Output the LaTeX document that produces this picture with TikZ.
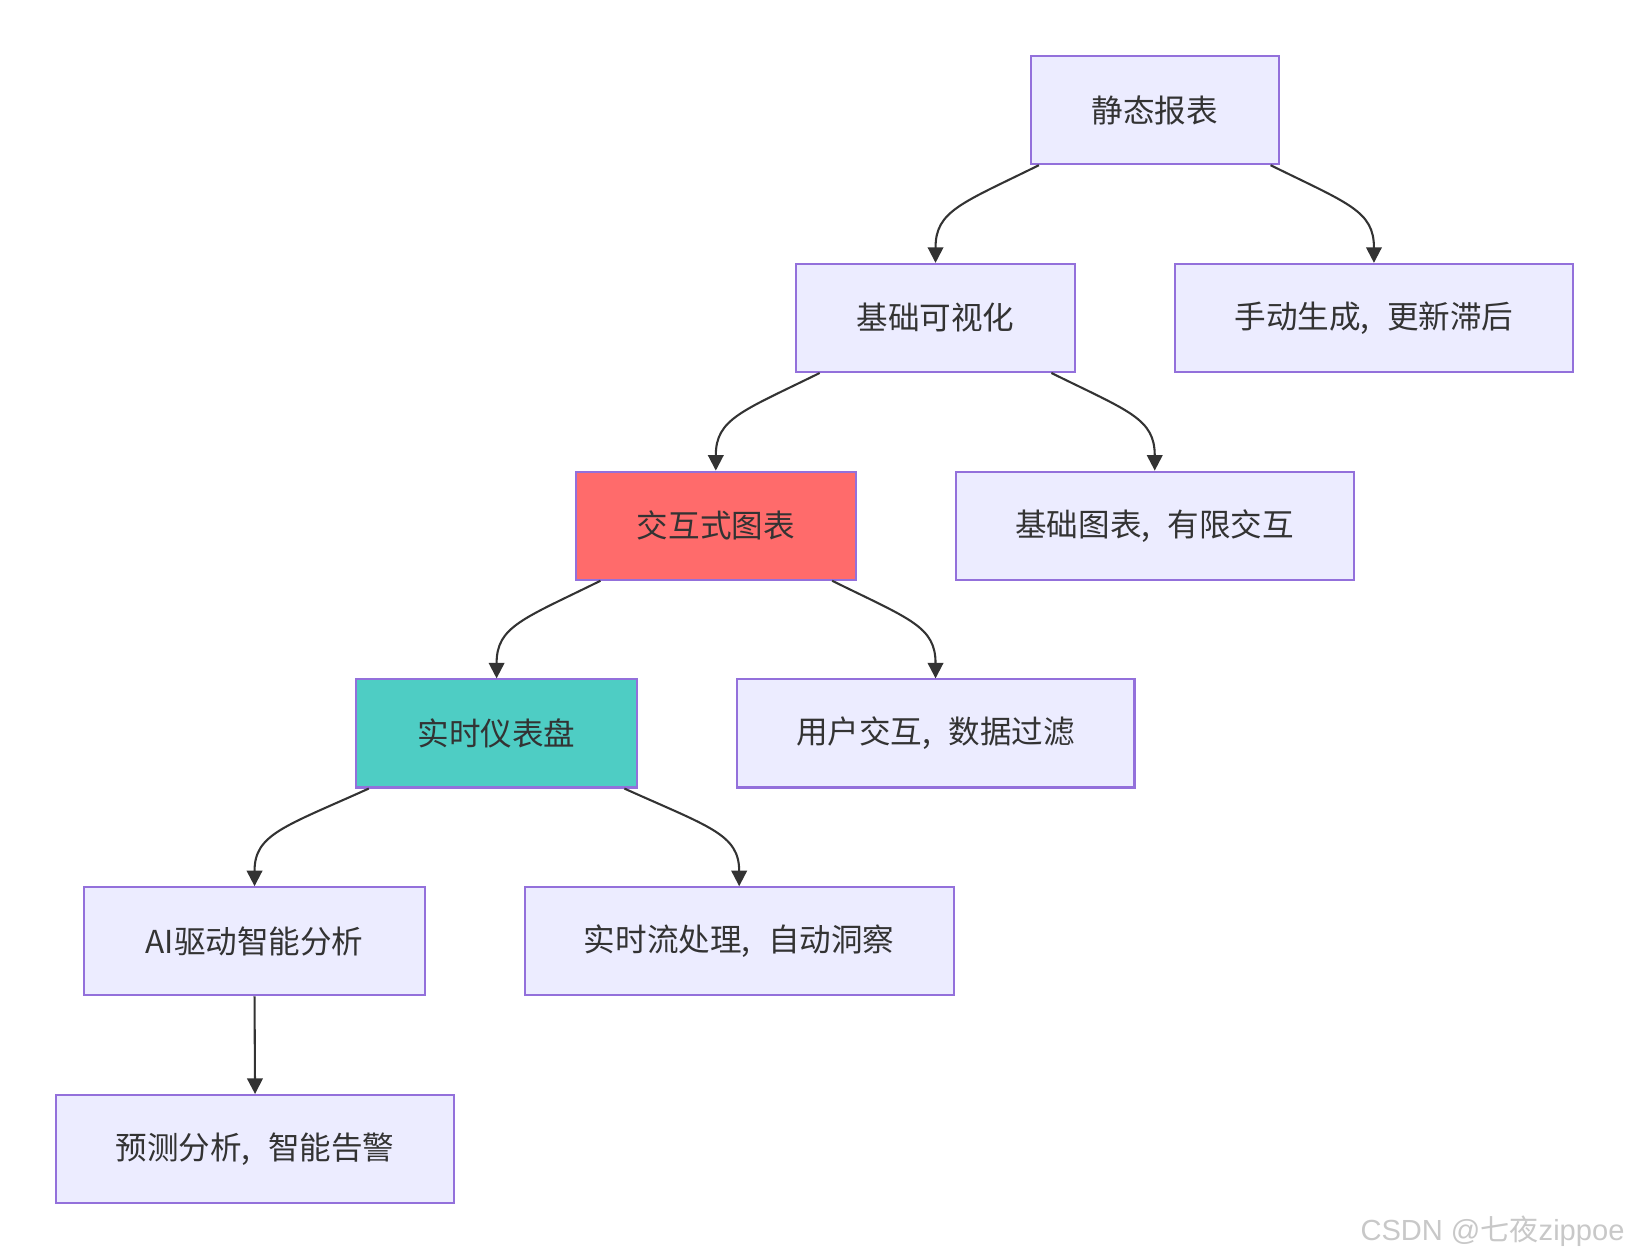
\documentclass[tikz,border=0pt]{standalone}
\usepackage{fontspec}
\setmainfont{Noto Sans CJK SC}
\newfontfamily\wmfont{Liberation Sans}
\newfontfamily\cjkfont{Noto Sans CJK SC}
\usetikzlibrary{arrows.meta,calc}
\definecolor{boxfill}{HTML}{ECECFF}
\definecolor{boxline}{HTML}{9370DB}
\definecolor{txt}{HTML}{333333}
\definecolor{rfill}{HTML}{FF6B6B}
\definecolor{tfill}{HTML}{4ECDC4}
\definecolor{wmgray}{HTML}{C8C8C8}
\newcommand\mycomma{,\hspace{0.55em}}
\begin{document}
\begin{tikzpicture}[x=0.5pt,y=-0.5pt,
  box/.style={draw=boxline, fill=boxfill, line width=1pt, minimum height=52pt,
    inner sep=0pt, text=txt, font=\fontsize{15.2}{18}\selectfont},
  edge/.style={draw=txt, line width=1pt, -{Triangle[length=7.5pt,width=7.5pt]}}]
\useasboundingbox (0,0) rectangle (1568,1212);
\node[box, minimum width=119.5pt] (n1) at (1111.5,106) {静态报表};
\node[box, minimum width=134.5pt] (n2) at (900.5,306) {基础可视化};
\node[box, minimum width=191.5pt] (n3) at (1322.5,306) {手动生成\mycomma 更新滞后};
\node[box, minimum width=135pt, fill=rfill] (n4) at (689,506) {交互式图表};
\node[box, minimum width=191.5pt] (n5) at (1111.5,506) {基础图表\mycomma 有限交互};
\node[box, minimum width=135pt, fill=tfill] (n6) at (478,706) {实时仪表盘};
\node[box, minimum width=191.5pt] (n7) at (900.5,706) {用户交互\mycomma 数据过滤};
\node[box, minimum width=164pt] (n8) at (245,906) {AI驱动智能分析};
\node[box, minimum width=206.5pt] (n9) at (711.5,906) {实时流处理\mycomma 自动洞察};
\node[box, minimum width=191.5pt] (n10) at (245.5,1106) {预测分析\mycomma 智能告警};

\draw[edge] ($(n1.south west)+(9,0)$) .. controls +(-75,37) and +(0,-50) .. (n2.north);
\draw[edge] ($(n1.south east)+(-9,0)$) .. controls +(75,37) and +(0,-50) .. (n3.north);
\draw[edge] ($(n2.south west)+(24,0)$) .. controls +(-75,37) and +(0,-50) .. (n4.north);
\draw[edge] ($(n2.south east)+(-24,0)$) .. controls +(75,37) and +(0,-50) .. (n5.north);
\draw[edge] ($(n4.south west)+(25,0)$) .. controls +(-75,37) and +(0,-50) .. (n6.north);
\draw[edge] ($(n4.south east)+(-24,0)$) .. controls +(75,37) and +(0,-50) .. (n7.north);
\draw[edge] ($(n6.south west)+(13,0)$) .. controls +(-82,37) and +(0,-50) .. (n8.north);
\draw[edge] ($(n6.south east)+(-13,0)$) .. controls +(82,37) and +(0,-50) .. (n9.north);
\draw[edge] (n8.south) -- (n10.north);

\node[anchor=east, text=wmgray, inner sep=0pt, font=\fontsize{14}{16}\selectfont] (wm) at (1564,1185)
  {\wmfont CSDN @\cjkfont 七夜\wmfont zippoe};
\end{tikzpicture}
\end{document}
